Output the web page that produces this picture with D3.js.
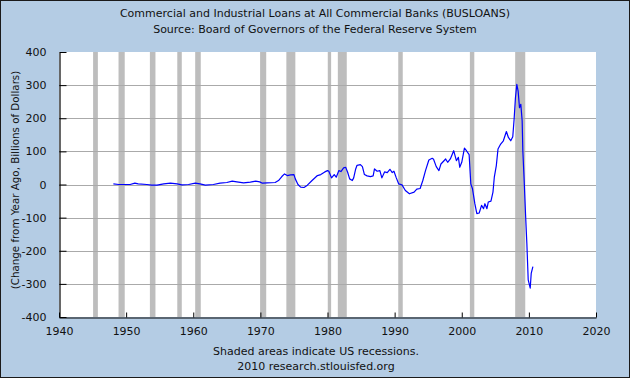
<!DOCTYPE html>
<html>
<head>
<meta charset="utf-8">
<script src="https://cdn.jsdelivr.net/npm/d3@7"></script>
<style>
  html, body { margin: 0; padding: 0; background: #fff; }
  svg { display: block; }
</style>
</head>
<body>
<div id="chart"></div>
<script>
// Year-over-year change in C&I loans, billions of dollars
const dates = [
  1948.1, 1948.9, 1950.6, 1951.3, 1951.8, 1953.1, 1953.8, 1954.6, 1955.6, 1956.6,
  1957.6, 1958.3, 1959.3, 1960.3, 1961.0, 1961.8, 1963.0, 1964.0, 1965.0, 1965.8,
  1966.5, 1967.5, 1968.5, 1969.3, 1969.9, 1970.3, 1971.0, 1972.2, 1972.7, 1973.2,
  1973.6, 1974.0, 1974.5, 1975.0, 1975.2, 1975.6, 1976.0, 1976.5, 1977.0, 1977.7,
  1978.5, 1979.0, 1979.6, 1980.0, 1980.2, 1980.6, 1981.0, 1981.3, 1981.7, 1982.0,
  1982.4, 1982.7, 1983.0, 1983.3, 1983.7, 1983.9, 1984.2, 1984.4, 1984.9, 1985.2,
  1985.5, 1985.9, 1986.4, 1986.8, 1987.0, 1987.4, 1987.8, 1988.1, 1988.5, 1988.9,
  1989.3, 1989.65, 1989.9, 1990.25, 1990.6, 1991.1, 1991.6, 1992.2, 1992.9, 1993.3,
  1993.8, 1994.2, 1994.6, 1995.1, 1995.6, 1995.8, 1996.2, 1996.6, 1996.9, 1997.6,
  1997.9, 1998.3, 1998.8, 1999.2, 1999.5, 1999.7, 2000.0, 2000.4, 2000.7, 2001.1,
  2001.35, 2001.6, 2001.95, 2002.25, 2002.6, 2002.95, 2003.25, 2003.45, 2003.75, 2003.95,
  2004.35, 2004.65, 2004.85, 2005.15, 2005.4, 2005.8, 2006.2, 2006.65, 2006.95, 2007.3,
  2007.6, 2007.8, 2008.0, 2008.2, 2008.4, 2008.6, 2008.8, 2009.0, 2009.1, 2009.3,
  2009.5, 2009.7, 2009.9, 2010.2, 2010.35, 2010.6
];
const values = [
  2, 0, 0, 4, 2, 0, -2, -2, 2, 4,
  2, -1, 0, 4, 2, -2, 0, 4, 6, 10,
  8, 5, 7, 10, 8, 4, 5, 6, 12, 24,
  32, 27, 29, 30, 17, 0, -8, -9, -2, 12,
  27, 30, 38, 42, 40, 20, 30, 22, 42, 39,
  50, 52, 37, 17, 12, 20, 47, 58, 60, 54,
  30, 26, 24, 26, 47, 40, 42, 20, 38, 36,
  46, 36, 40, 20, 2, -1, -18, -28, -23, -14,
  -12, 12, 42, 74, 79, 76, 54, 42, 62, 77,
  67, 77, 102, 72, 82, 52, 67, 110, 102, 90,
  2, -13, -58, -88, -86, -63, -73, -58, -73, -53,
  -50, -23, 22, 57, 107, 122, 132, 160, 142, 132,
  144, 197, 262, 302, 282, 232, 242, 192, 102, 12,
  -88, -178, -288, -313, -268, -248
];

// US recessions (NBER), decimal years
const recessionStart = [1945.08, 1948.87, 1953.54, 1957.62, 1960.29, 1969.96, 1973.87, 1980.04, 1981.54, 1990.54, 2001.21, 2007.96];
const recessionEnd   = [1945.79, 1949.79, 1954.37, 1958.29, 1961.12, 1970.87, 1975.21, 1980.54, 1982.87, 1991.21, 2001.87, 2009.46];

const xTicks = [1940, 1950, 1960, 1970, 1980, 1990, 2000, 2010, 2020];
const yTicks = [-400, -300, -200, -100, 0, 100, 200, 300, 400];

const titleLines = [
  "Commercial and Industrial Loans at All Commercial Banks (BUSLOANS)",
  "Source: Board of Governors of the Federal Reserve System"
];
const footLines = [
  "Shaded areas indicate US recessions.",
  "2010 research.stlouisfed.org"
];
const yLabel = "(Change from Year Ago, Billions of Dollars)";

const W = 630, H = 378;
const plot = { left: 59, right: 596, top: 52, bottom: 317 };
const font = "'DejaVu Sans', Verdana, sans-serif";

const svg = d3.select("#chart").append("svg")
  .attr("width", W).attr("height", H);

// background + frame
svg.append("rect")
  .attr("x", 0.5).attr("y", 0.5).attr("width", W - 1).attr("height", H - 1)
  .style("fill", "#b4cce4").style("stroke", "#1a1a1a").style("stroke-width", 1);

const x = d3.scaleLinear().domain([1940, 2020]).range([plot.left, plot.right]);
const y = d3.scaleLinear().domain([-400, 400]).range([plot.bottom, plot.top]);

svg.append("rect")
  .attr("x", plot.left).attr("y", plot.top)
  .attr("width", plot.right - plot.left).attr("height", plot.bottom - plot.top)
  .style("fill", "#ffffff");

// recession shading
svg.append("g").selectAll("rect")
  .data(recessionStart.map((s, i) => [s, recessionEnd[i]]))
  .join("rect")
  .attr("x", d => x(d[0]))
  .attr("y", plot.top)
  .attr("width", d => x(d[1]) - x(d[0]))
  .attr("height", plot.bottom - plot.top)
  .style("fill", "#bdbdbd");

// horizontal gridlines
svg.append("g").selectAll("line")
  .data(yTicks.slice(1, -1))
  .join("line")
  .attr("x1", plot.left).attr("x2", plot.right)
  .attr("y1", d => Math.round(y(d)) + 0.5).attr("y2", d => Math.round(y(d)) + 0.5)
  .style("stroke", "#aaaaaa").style("stroke-width", 1);

// data line
const line = d3.line()
  .x((d, i) => x(dates[i]))
  .y(d => y(d));

svg.append("path")
  .datum(values)
  .attr("d", line)
  .style("fill", "none")
  .style("stroke", "#0000ff")
  .style("stroke-width", 1.2)
  .style("stroke-linejoin", "round");

// axes (plain hyphen for negatives, like the original)
const plain = d => String(d);
const yAxis = d3.axisLeft(y).tickValues(yTicks).tickFormat(plain)
  .tickSizeInner(-7).tickSizeOuter(0).tickPadding(13);
const gy = svg.append("g")
  .attr("transform", `translate(${plot.left + 0.5},0)`)
  .call(yAxis);

const xAxis = d3.axisBottom(x).tickValues(xTicks).tickFormat(plain)
  .tickSizeInner(-5).tickSizeOuter(0).tickPadding(10);
const gx = svg.append("g")
  .attr("transform", `translate(0,${plot.bottom + 0.5})`)
  .call(xAxis);

[gx, gy].forEach(g => {
  g.select(".domain").style("stroke", "#000").style("stroke-width", 1.2);
  g.selectAll(".tick line").style("stroke", "#000");
  g.selectAll(".tick text")
    .style("font-family", font).style("font-size", "11px").style("fill", "#111");
});
gx.selectAll(".tick text").attr("dy", "0.71em");

// titles
svg.append("g").selectAll("text")
  .data(titleLines)
  .join("text")
  .attr("x", W / 2)
  .attr("y", (d, i) => 17 + i * 16)
  .attr("text-anchor", "middle")
  .style("font-family", font).style("font-size", "11px").style("fill", "#111")
  .text(d => d);

svg.append("g").selectAll("text")
  .data(footLines)
  .join("text")
  .attr("x", 316)
  .attr("y", (d, i) => 355 + i * 15)
  .attr("text-anchor", "middle")
  .style("font-family", font).style("font-size", "11px").style("fill", "#111")
  .text(d => d);

svg.append("text")
  .attr("transform", "translate(19,180) rotate(-90)")
  .attr("text-anchor", "middle")
  .style("font-family", font).style("font-size", "10.3px").style("fill", "#111")
  .text(yLabel);
</script>
</body>
</html>
